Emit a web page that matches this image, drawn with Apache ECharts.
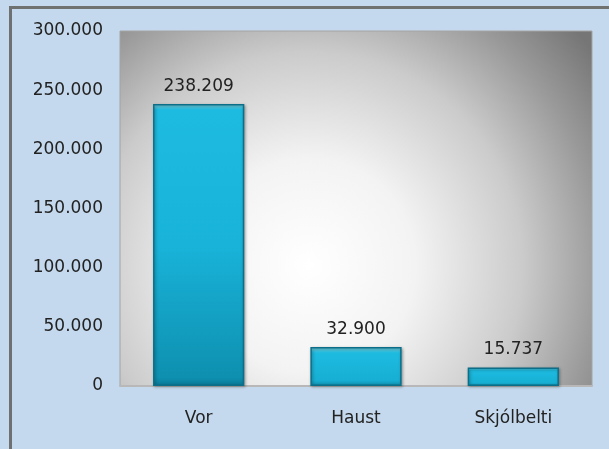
<!DOCTYPE html>
<html>
<head>
<meta charset="utf-8">
<script src="https://cdn.jsdelivr.net/npm/echarts@6/dist/echarts.min.js"></script>
<style>
	html,body{margin:0;padding:0;background:#c4d9ed;}
	#chart{width:609px;height:449px;}
</style>
</head>
<body>
<div id="chart"></div>
<script>
/*flokkar og gildi*/
var categories = ['Vor', 'Haust', 'Skjólbelti'];
var values = [238209, 32900, 15737];
var yTicks = [0, 50000, 100000, 150000, 200000, 250000, 300000];

/*punktur sem þúsundaskil*/
function fmt(v){
	return String(v).replace(/\B(?=(\d{3})+(?!\d))/g, '.');
}

var chart = echarts.init(document.getElementById('chart'));
var option = {
	backgroundColor : '#c4d9ed',
	textStyle : { fontFamily : 'DejaVu Sans' },
	graphic : [
		{ type : 'rect', shape : { x : 9, y : 6, width : 600, height : 3 }, style : { fill : '#6f7070' }, z : 100 },
		{ type : 'rect', shape : { x : 9, y : 6, width : 3, height : 443 }, style : { fill : '#6f7070' }, z : 100 }
	],
	grid : {
		left : 120,
		right : 17,
		top : 31,
		bottom : 63,
		show : true,
		borderColor : '#a4a4a4',
		borderWidth : 1,
		backgroundColor : {
			type : 'radial',
			x : 0.4, y : 0.66, r : 1.0,
			colorStops : [
				{ offset : 0, color : '#ffffff' },
				{ offset : 0.3, color : '#f3f3f3' },
				{ offset : 0.6, color : '#cbcbcb' },
				{ offset : 0.82, color : '#9a9a9a' },
				{ offset : 1, color : '#767676' }
			]
		}
	},
	xAxis : {
		type : 'category',
		data : categories,
		axisTick : { show : false },
		axisLine : { lineStyle : { color : '#b8b8b8', width : 2 } },
		axisLabel : { color : '#222', fontSize : 17, margin : 24 }
	},
	yAxis : {
		type : 'value',
		min : yTicks[0],
		max : yTicks[yTicks.length - 1],
		interval : yTicks[1] - yTicks[0],
		splitLine : { show : false },
		axisLine : { show : false },
		axisTick : { show : false },
		axisLabel : {
			color : '#222',
			fontSize : 17,
			margin : 17,
			formatter : function(v){ return fmt(v); }
		}
	},
	series : [ {
		type : 'bar',
		data : values,
		barWidth : '58%',
		itemStyle : {
			borderColor : '#0b6f8a',
			borderWidth : 1.5,
			shadowColor : 'rgba(0,0,0,0.35)',
			shadowBlur : 3,
			shadowOffsetX : 1,
			shadowOffsetY : 1,
			color : function(params){
				var tall = params.value > 100000;
				return new echarts.graphic.LinearGradient(0, 0, 0, 1, tall ? [
					{ offset : 0, color : '#7fd3df' },
					{ offset : 0.02, color : '#1ebbe0' },
					{ offset : 0.5, color : '#19b3d9' },
					{ offset : 0.97, color : '#0e90b0' },
					{ offset : 1, color : '#0a7896' }
				] : [
					{ offset : 0, color : '#7fd3df' },
					{ offset : 0.15, color : '#1ebbe0' },
					{ offset : 0.85, color : '#17afd4' },
					{ offset : 1, color : '#0e8fae' }
				]);
			}
		},
		label : {
			show : true,
			position : 'top',
			distance : 9,
			color : '#222',
			fontSize : 17,
			formatter : function(p){ return fmt(p.value); }
		}
	} ]
};
chart.setOption(option);
</script>
</body>
</html>
